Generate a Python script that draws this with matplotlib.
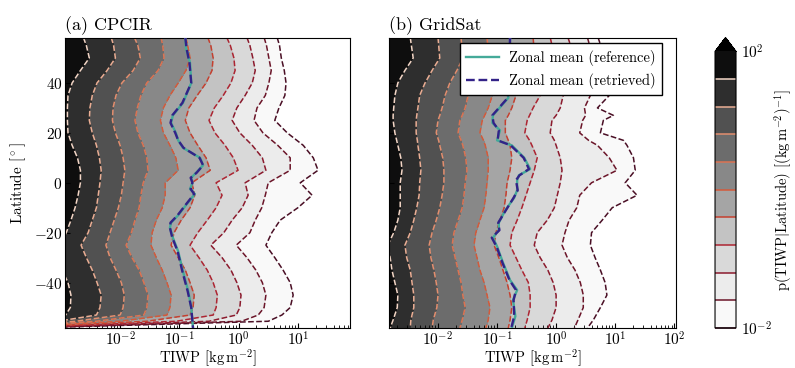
import numpy as np
import matplotlib
matplotlib.use("Agg")
import matplotlib.pyplot as plt
from matplotlib.colors import LogNorm
from matplotlib.ticker import LogLocator, LogFormatterMathtext, NullLocator

plt.rcParams.update({
    "font.family": "serif",
    "font.serif": ["cmr10"],
    "mathtext.fontset": "cm",
    "axes.formatter.use_mathtext": True,
    "font.size": 11,
    "axes.unicode_minus": True,
})

# Density levels, log10 of p(TIWP | latitude) in (kg m-2)^-1
level_exp = [-2.0, -1.6, -1.2, -0.8, -0.4, 0.0, 0.4, 0.8, 1.2, 1.6, 2.0]

# Latitudes (deg) of the rows in each crossing table
lat_cpcir = [58.2, 55, 50, 45, 40, 35, 30, 25, 20, 15, 10, 5, 0, -5, -10, -15,
             -20, -25, -30, -35, -40, -45, -50, -53, -55.5, -58.2]
lat_gridsat = [58.2, 50, 45, 40, 35, 30, 27, 25, 20, 17, 15, 10, 5, 0, -5, -10,
               -15, -20, -25, -30, -35, -40, -45, -50, -55, -58.2]

# log10 TIWP where the density crosses 10^1.6, 10^1.2, ..., 10^-2.0
cpcir_crossings = [
    [-2.62, -2.15, -1.76, -1.31, -0.89, -0.52, -0.20, 0.14, 0.43, 0.65],
    [-2.57, -2.11, -1.70, -1.28, -0.86, -0.47, -0.14, 0.19, 0.47, 0.69],
    [-2.52, -2.08, -1.66, -1.26, -0.82, -0.43, -0.08, 0.24, 0.51, 0.72],
    [-2.67, -2.22, -1.78, -1.36, -0.89, -0.45, -0.06, 0.28, 0.55, 0.77],
    [-2.81, -2.39, -1.97, -1.55, -1.02, -0.55, -0.13, 0.23, 0.51, 0.80],
    [-2.88, -2.47, -2.07, -1.65, -1.16, -0.70, -0.26, 0.11, 0.45, 0.78],
    [-2.89, -2.51, -2.12, -1.71, -1.27, -0.84, -0.41, -0.03, 0.31, 0.68],
    [-2.89, -2.52, -2.13, -1.75, -1.32, -0.90, -0.50, -0.11, 0.26, 0.61],
    [-2.88, -2.47, -2.08, -1.70, -1.27, -0.82, -0.40, 0.02, 0.41, 0.82],
    [-2.81, -2.40, -2.00, -1.61, -1.16, -0.69, -0.23, 0.23, 0.66, 1.09],
    [-2.72, -2.35, -1.95, -1.55, -1.06, -0.55, -0.09, 0.40, 0.87, 1.26],
    [-2.67, -2.32, -1.92, -1.53, -1.02, -0.48, -0.01, 0.46, 0.87, 1.34],
    [-2.67, -2.34, -1.95, -1.61, -1.24, -0.79, -0.38, 0.11, 0.50, 1.04],
    [-2.71, -2.37, -1.98, -1.65, -1.24, -0.74, -0.28, 0.16, 0.45, 1.24],
    [-2.76, -2.40, -2.03, -1.68, -1.29, -0.82, -0.38, 0.06, 0.39, 1.00],
    [-2.83, -2.47, -2.10, -1.75, -1.39, -0.97, -0.53, -0.11, 0.28, 0.70],
    [-2.91, -2.54, -2.17, -1.81, -1.46, -1.09, -0.69, -0.25, 0.19, 0.56],
    [-3.01, -2.66, -2.24, -1.90, -1.48, -1.14, -0.82, -0.47, -0.04, 0.46],
    [-3.01, -2.57, -2.17, -1.80, -1.39, -1.02, -0.67, -0.28, 0.14, 0.61],
    [-2.98, -2.47, -2.07, -1.68, -1.29, -0.90, -0.53, -0.13, 0.29, 0.75],
    [-2.88, -2.39, -1.98, -1.60, -1.21, -0.82, -0.43, -0.03, 0.40, 0.87],
    [-2.83, -2.32, -1.93, -1.53, -1.14, -0.75, -0.36, 0.04, 0.46, 0.92],
    [-2.84, -2.34, -1.95, -1.55, -1.16, -0.77, -0.38, 0.02, 0.43, 0.87],
    [-2.92, -2.40, -2.00, -1.60, -1.21, -0.82, -0.43, -0.04, 0.33, 0.73],
    [-3.30, -3.05, -2.75, -2.40, -2.00, -1.55, -1.05, -0.50, 0.05, 0.50],
    [-4.40, -4.30, -4.20, -4.10, -4.00, -3.90, -3.80, -3.70, -3.60, -3.50],
]

gridsat_crossings = [
    [-2.47, -2.00, -1.61, -1.17, -0.78, -0.39, -0.10, 0.20, 0.53, 0.71],
    [-2.42, -1.97, -1.58, -1.14, -0.76, -0.36, -0.02, 0.32, 0.63, 0.83],
    [-2.56, -2.10, -1.68, -1.24, -0.83, -0.44, -0.07, 0.29, 0.61, 0.86],
    [-2.68, -2.22, -1.80, -1.36, -0.95, -0.54, -0.17, 0.20, 0.58, 0.92],
    [-2.73, -2.31, -1.88, -1.49, -1.08, -0.68, -0.27, 0.12, 0.58, 0.90],
    [-2.75, -2.34, -1.93, -1.54, -1.15, -0.75, -0.39, 0.07, 0.48, 0.70],
    [-2.76, -2.36, -1.97, -1.59, -1.21, -0.81, -0.45, 0.00, 0.50, 0.97],
    [-2.76, -2.37, -2.00, -1.63, -1.25, -0.86, -0.49, -0.07, 0.45, 0.80],
    [-2.73, -2.37, -2.03, -1.66, -1.29, -0.86, -0.53, -0.10, 0.40, 0.75],
    [-2.70, -2.35, -1.99, -1.61, -1.23, -0.81, -0.45, -0.03, 0.55, 1.14],
    [-2.68, -2.34, -1.97, -1.58, -1.20, -0.78, -0.41, 0.00, 0.70, 1.20],
    [-2.63, -2.31, -1.92, -1.53, -1.15, -0.75, -0.32, 0.07, 0.90, 1.31],
    [-2.61, -2.29, -1.90, -1.51, -1.15, -0.78, -0.37, 0.10, 1.03, 1.34],
    [-2.64, -2.31, -1.90, -1.54, -1.17, -0.83, -0.44, 0.07, 0.60, 1.17],
    [-2.64, -2.32, -1.93, -1.56, -1.19, -0.85, -0.51, 0.02, 0.40, 1.37],
    [-2.64, -2.36, -1.97, -1.59, -1.22, -0.88, -0.58, -0.03, 0.35, 0.95],
    [-2.68, -2.41, -2.03, -1.66, -1.29, -0.95, -0.66, -0.15, 0.22, 0.78],
    [-2.75, -2.47, -2.10, -1.73, -1.36, -1.02, -0.75, -0.32, 0.15, 0.60],
    [-2.85, -2.56, -2.15, -1.76, -1.39, -1.05, -0.78, -0.37, 0.10, 0.58],
    [-2.81, -2.53, -2.12, -1.71, -1.34, -0.97, -0.68, -0.27, 0.19, 0.66],
    [-2.78, -2.47, -2.07, -1.66, -1.29, -0.90, -0.58, -0.14, 0.32, 0.75],
    [-2.73, -2.44, -2.03, -1.61, -1.22, -0.83, -0.47, -0.05, 0.41, 0.83],
    [-2.68, -2.41, -2.00, -1.58, -1.17, -0.78, -0.44, 0.00, 0.46, 0.86],
    [-2.69, -2.41, -2.02, -1.54, -1.12, -0.75, -0.44, 0.00, 0.46, 0.75],
    [-2.76, -2.46, -2.08, -1.59, -1.15, -0.78, -0.49, -0.07, 0.37, 0.63],
    [-2.81, -2.47, -2.10, -1.63, -1.19, -0.81, -0.53, -0.14, 0.31, 0.53],
]

# Zonal mean TIWP, log10 kg m-2
cpcir_mean_lat = [58.2, 54, 48, 40, 32, 27, 24, 20, 17, 14, 10, 7, 4, 2, 0,
                  -2.5, -4.5, -9, -13, -16, -18, -22, -27.5, -35.5, -43.5, -50, -58.2]
cpcir_mean_ref = [-0.90, -0.89, -0.82, -0.80, -0.94, -1.11, -1.14, -1.06, -1.02,
                  -0.94, -0.65, -0.60, -0.72, -0.80, -0.78, -0.82, -0.74, -0.89,
                  -1.02, -1.14, -1.16, -1.11, -1.02, -0.94, -0.85, -0.80, -0.77]
cpcir_mean_ret = [-0.90, -0.88, -0.83, -0.80, -0.95, -1.12, -1.15, -1.07, -1.02,
                  -0.93, -0.66, -0.60, -0.71, -0.81, -0.78, -0.81, -0.75, -0.90,
                  -1.03, -1.15, -1.16, -1.12, -1.03, -0.95, -0.86, -0.80, -0.77]

gridsat_mean_lat = [58.2, 50, 42, 34, 27, 24, 21, 17, 15, 10, 5.5, 3, 1, -3, -6,
                    -11, -16, -19, -22, -25.5, -32, -39, -43, -47, -53.5, -58.2]
gridsat_mean_ref = [-0.78, -0.78, -0.80, -0.81, -1.07, -1.08, -0.95, -1.00, -0.75,
                    -0.54, -0.44, -0.63, -0.66, -0.66, -0.71, -0.86, -0.97, -0.97,
                    -1.07, -1.00, -0.90, -0.78, -0.66, -0.73, -0.69, -0.75]
gridsat_mean_ret = [-0.78, -0.79, -0.80, -0.82, -1.08, -1.06, -0.97, -0.99, -0.77,
                    -0.55, -0.46, -0.62, -0.68, -0.65, -0.72, -0.85, -0.98, -0.96,
                    -1.09, -1.01, -0.91, -0.79, -0.68, -0.72, -0.71, -0.76]

panels = [
    ("(a) CPCIR", lat_cpcir, cpcir_crossings, cpcir_mean_lat, cpcir_mean_ref,
     cpcir_mean_ret, (-2.93, 1.88)),
    ("(b) GridSat", lat_gridsat, gridsat_crossings, gridsat_mean_lat,
     gridsat_mean_ref, gridsat_mean_ret, (-2.83, 2.03)),
]

levels = 10.0 ** np.array(level_exp)
line_colors = ["#4a0f25", "#6b1529", "#8c1b2e", "#ad2532", "#c5402f",
               "#d45a3a", "#dc7352", "#e38e6e", "#ebae94", "#f3d6c6"]
norm = LogNorm(vmin=1e-2, vmax=1e2)


def density_field(lats, crossings):
    """Curvilinear grid whose nodes sit on the level crossings of each row."""
    cross = np.asarray(crossings, dtype=float)
    n = len(lats)
    x_exp = np.column_stack([np.full(n, -5.0), cross, np.full(n, 3.0)])
    col_vals = [10.0 ** 1.9] + [levels[k] for k in range(9, -1, -1)] + [1e-3]
    z = np.tile(np.array(col_vals), (n, 1))
    x = 10.0 ** x_exp
    y = np.tile(np.asarray(lats, dtype=float)[:, None], (1, x.shape[1]))
    return x, y, z


fig = plt.figure(figsize=(7.95, 3.68), dpi=100)
ax_a = fig.add_axes([0.0818, 0.1087, 0.3585, 0.7893])
ax_b = fig.add_axes([0.4893, 0.1087, 0.3610, 0.7893])
cax = fig.add_axes([0.8994, 0.1087, 0.0264, 0.7893])

cf = None
cs = None
for ax, (title, lats, cross, mlat, mref, mret, xl) in zip([ax_a, ax_b], panels):
    x, y, z = density_field(lats, cross)
    cf = ax.contourf(x, y, z, levels=levels, cmap="Greys", norm=norm,
                     extend="max")
    cs = ax.contour(x, y, z, levels=levels[:10], colors=line_colors,
                    linestyles="--", linewidths=1.1)
    ax.plot(10.0 ** np.array(mref), mlat, color="#44AA99", lw=1.7,
            label="Zonal mean (reference)", zorder=3)
    ax.plot(10.0 ** np.array(mret), mlat, color="#332288", lw=1.7, ls="--",
            label="Zonal mean (retrieved)", zorder=4)
    ax.set_xscale("log")
    ax.set_xlim(10.0 ** xl[0], 10.0 ** xl[1])
    ax.set_ylim(-58.2, 58.2)
    ax.set_yticks([-40, -20, 0, 20, 40])
    ax.xaxis.set_major_locator(LogLocator(base=10, numticks=10))
    ax.xaxis.set_minor_locator(LogLocator(base=10, subs=np.arange(2, 10),
                                          numticks=20))
    ax.tick_params(direction="in", which="both", labelsize=11)
    ax.tick_params(which="major", length=3.5, pad=2)
    ax.tick_params(which="minor", length=2)
    ax.set_xlabel(r"TIWP [$\mathrm{kg\,m^{-2}}$]", fontsize=10.5, labelpad=-1)
    ax.set_title(title, loc="left", fontsize=13, pad=5)

ax_a.set_ylabel(r"Latitude [$^\circ$]", fontsize=11, labelpad=4)
ax_b.tick_params(labelleft=False)

leg = ax_b.legend(loc="upper right", bbox_to_anchor=(0.951, 0.981),
                  borderaxespad=0, fancybox=False, edgecolor="black",
                  framealpha=1.0, fontsize=10.5, handlelength=2.2,
                  borderpad=0.45, labelspacing=0.5, handletextpad=0.7)
leg.set_zorder(10)

cbar = fig.colorbar(cf, cax=cax, extend="max")
cbar.add_lines(cs)
cbar.set_ticks([1e-2, 1e2])
cbar.ax.yaxis.set_major_formatter(LogFormatterMathtext())
cbar.ax.yaxis.set_minor_locator(NullLocator())
cbar.ax.tick_params(labelsize=11, length=0)
cbar.set_label(r"p(TIWP$|$Latitude) [$(\mathrm{kg\,m^{-2}})^{-1}$]",
               fontsize=10.5, labelpad=1)

fig.savefig("out.png", dpi=100)
